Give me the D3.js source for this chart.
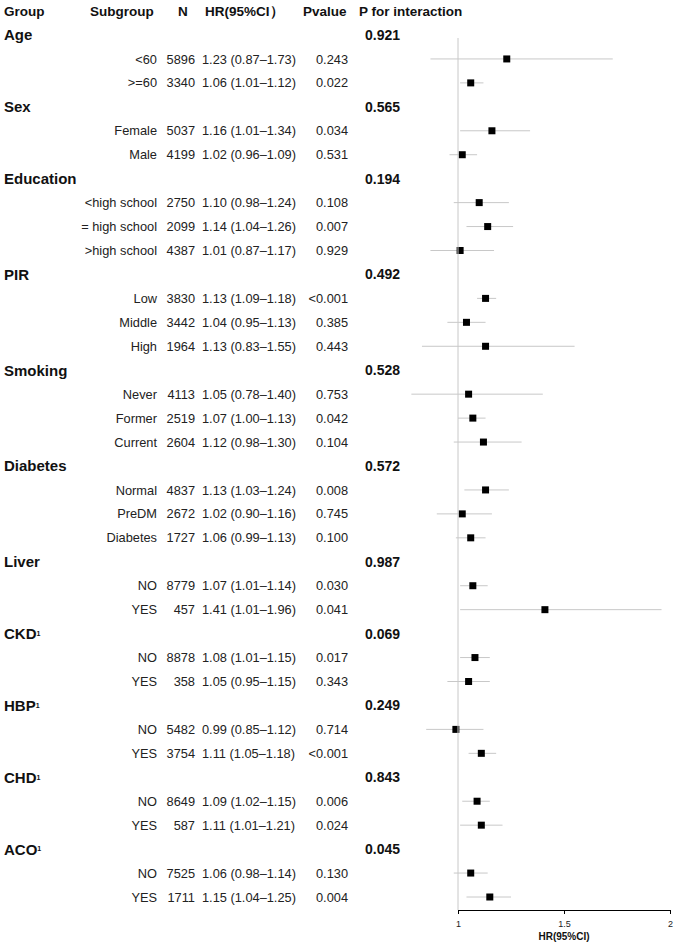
<!DOCTYPE html>
<html>
<head>
<meta charset="utf-8">
<script src="https://cdn.jsdelivr.net/npm/d3@7"></script>
<style>
  body { margin: 0; background: #fff; }
  svg { font-family: "Liberation Sans", Arial, sans-serif; }
</style>
</head>
<body>
<div id="chart"></div>
<script>
// subgroup data, one entry per row
const groups = ["Age", "Sex", "Education", "PIR", "Smoking", "Diabetes", "Liver", "CKD", "HBP", "CHD", "ACO"];
const groupSup = [false, false, false, false, false, false, false, true, true, true, true];
const pInteraction = ["0.921", "0.565", "0.194", "0.492", "0.528", "0.572", "0.987", "0.069", "0.249", "0.843", "0.045"];

const subgroups = [
    ["<60", ">=60"],
    ["Female", "Male"],
    ["<high school", "= high school", ">high school"],
    ["Low", "Middle", "High"],
    ["Never", "Former", "Current"],
    ["Normal", "PreDM", "Diabetes"],
    ["NO", "YES"],
    ["NO", "YES"],
    ["NO", "YES"],
    ["NO", "YES"],
    ["NO", "YES"]
];
const nValues = [
    [5896, 3340], [5037, 4199], [2750, 2099, 4387], [3830, 3442, 1964],
    [4113, 2519, 2604], [4837, 2672, 1727], [8779, 457], [8878, 358],
    [5482, 3754], [8649, 587], [7525, 1711]
];
const hr = [
    [1.23, 1.06], [1.16, 1.02], [1.10, 1.14, 1.01], [1.13, 1.04, 1.13],
    [1.05, 1.07, 1.12], [1.13, 1.02, 1.06], [1.07, 1.41], [1.08, 1.05],
    [0.99, 1.11], [1.09, 1.11], [1.06, 1.15]
];
const lower = [
    [0.87, 1.01], [1.01, 0.96], [0.98, 1.04, 0.87], [1.09, 0.95, 0.83],
    [0.78, 1.00, 0.98], [1.03, 0.90, 0.99], [1.01, 1.01], [1.01, 0.95],
    [0.85, 1.05], [1.02, 1.01], [0.98, 1.04]
];
const upper = [
    [1.73, 1.12], [1.34, 1.09], [1.24, 1.26, 1.17], [1.18, 1.13, 1.55],
    [1.40, 1.13, 1.30], [1.24, 1.16, 1.13], [1.14, 1.96], [1.15, 1.15],
    [1.12, 1.18], [1.15, 1.21], [1.14, 1.25]
];
const pValues = [
    ["0.243", "0.022"], ["0.034", "0.531"], ["0.108", "0.007", "0.929"],
    ["<0.001", "0.385", "0.443"], ["0.753", "0.042", "0.104"],
    ["0.008", "0.745", "0.100"], ["0.030", "0.041"], ["0.017", "0.343"],
    ["0.714", "<0.001"], ["0.006", "0.024"], ["0.130", "0.004"]
];
const xTicks = [1, 1.5, 2];

// flatten into rows
let rows = [];
groups.forEach((g, gi) => {
    rows.push({type: "group", label: g, sup: groupSup[gi], pint: pInteraction[gi]});
    subgroups[gi].forEach((s, si) => {
        rows.push({
            type: "sub", label: s, n: nValues[gi][si], hr: hr[gi][si],
            lo: lower[gi][si], hi: upper[gi][si], p: pValues[gi][si]
        });
    });
});

const width = 675, height = 945;
const fmt = d3.format(".2f");

let svg = d3.select("#chart").append("svg")
    .attr("width", width)
    .attr("height", height);

let y = d3.scalePoint()
    .domain(d3.range(rows.length))
    .range([35, 897]);

let x = d3.scaleLinear()
    .domain([1, 2])
    .range([458, 670]);

// header
let header = svg.append("g")
    .style("font-weight", "bold")
    .style("font-size", "13.5px")
    .attr("fill", "#111");
header.append("text").attr("x", 4).attr("y", 16).text("Group");
header.append("text").attr("x", 90).attr("y", 16).text("Subgroup");
header.append("text").attr("x", 178).attr("y", 16).text("N");
header.append("text").attr("x", 205).attr("y", 16).text("HR(95%CI）");
header.append("text").attr("x", 303).attr("y", 16).text("Pvalue");
header.append("text").attr("x", 359).attr("y", 16).text("P for interaction");

// group rows
let gRows = svg.append("g").selectAll("g")
    .data(rows.map((d, i) => ({...d, i})).filter(d => d.type === "group"))
    .enter().append("g")
    .attr("transform", d => "translate(0," + y(d.i) + ")");

let gLabel = gRows.append("text")
    .attr("x", 4)
    .attr("dy", "0.36em")
    .style("font-weight", "bold")
    .style("font-size", "15px")
    .attr("fill", "#111")
    .text(d => d.label);
gLabel.filter(d => d.sup).append("tspan")
    .attr("dy", "-0.45em")
    .style("font-size", "7px")
    .text("1");

gRows.append("text")
    .attr("x", 365)
    .attr("dy", "0.36em")
    .style("font-weight", "bold")
    .style("font-size", "14px")
    .attr("fill", "#111")
    .text(d => d.pint);

// subgroup rows
let sRows = svg.append("g")
    .style("font-size", "12.8px")
    .attr("fill", "#222")
    .selectAll("g")
    .data(rows.map((d, i) => ({...d, i})).filter(d => d.type === "sub"))
    .enter().append("g")
    .attr("transform", d => "translate(0," + y(d.i) + ")");

sRows.append("text").attr("x", 157).attr("dy", "0.36em").attr("text-anchor", "end").text(d => d.label);
sRows.append("text").attr("x", 195).attr("dy", "0.36em").attr("text-anchor", "end").text(d => d.n);
sRows.append("text").attr("x", 202).attr("dy", "0.36em")
    .text(d => fmt(d.hr) + " (" + fmt(d.lo) + "\u2013" + fmt(d.hi) + ")");
sRows.append("text").attr("x", 348).attr("dy", "0.36em").attr("text-anchor", "end").text(d => d.p);

// reference line at HR = 1
svg.append("line")
    .attr("x1", x(1)).attr("x2", x(1))
    .attr("y1", 38).attr("y2", 910)
    .attr("stroke", "#c8c8c8")
    .attr("stroke-width", 1);

// CI lines and squares
sRows.append("line")
    .attr("x1", d => x(d.lo))
    .attr("x2", d => x(d.hi))
    .attr("stroke", "#c8c8c8")
    .attr("stroke-width", 1);

sRows.append("rect")
    .attr("x", d => x(d.hr) - 3.5)
    .attr("y", -3.5)
    .attr("width", 7)
    .attr("height", 7)
    .attr("fill", "#000");

// x axis
let axis = svg.append("g")
    .attr("transform", "translate(0,910)")
    .call(d3.axisBottom(x).tickValues(xTicks).tickFormat(d3.format("")).tickSize(4).tickPadding(7));
axis.select(".domain").attr("stroke", "#000");
axis.selectAll("text").style("font-size", "9px").attr("fill", "#222");

svg.append("text")
    .attr("x", x(1.5))
    .attr("y", 940)
    .attr("text-anchor", "middle")
    .style("font-weight", "bold")
    .style("font-size", "10px")
    .attr("fill", "#111")
    .text("HR(95%CI)");
</script>
</body>
</html>
